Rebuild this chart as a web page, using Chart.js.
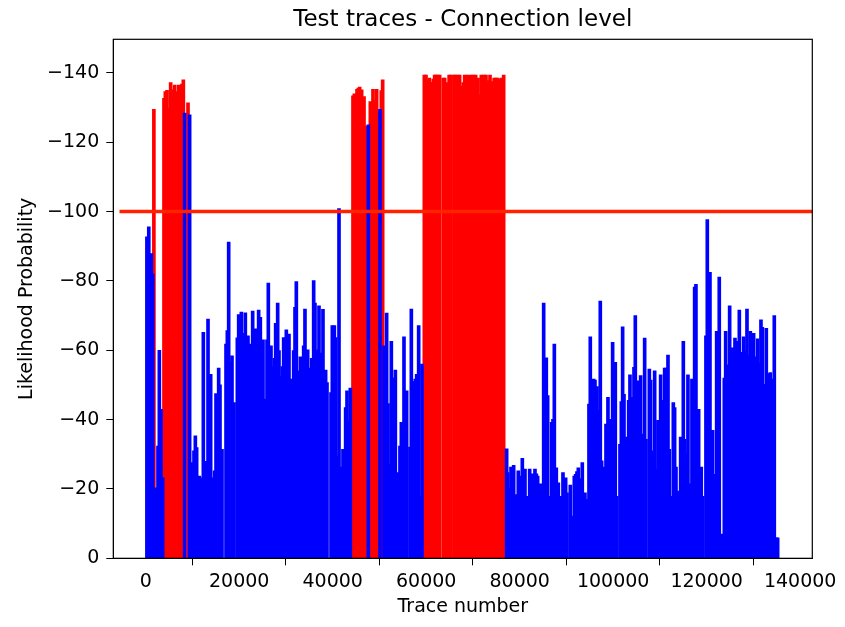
<!DOCTYPE html>
<html>
<head>
<meta charset="utf-8">
<script src="https://cdn.jsdelivr.net/npm/chart.js@4.4.0/dist/chart.umd.min.js"></script>
<style>
  html, body { margin: 0; padding: 0; background: #fff; }
</style>
</head>
<body>
<canvas id="chart" width="845" height="627"></canvas>
<script>
// traces flagged as normal (blue) and anomalous (red), likelihood values
const blueTrace = [260, 660, 960, 1200, 1500, 2050, 2630, 2920, 3270, 3630, 8330, 9400,
  9980, 10330, 10620, 10900, 11470, 11830, 12330, 12610, 12900, 13330, 13900, 14180, 14750,
  15040, 15320, 15610, 15890, 16320, 17180, 17460, 17750, 18030, 18460, 18890, 19600, 19890,
  20170, 20460, 21030, 21310, 21880, 22170, 22450, 22880, 23450, 23740, 24160, 24520, 24810,
  25090, 25450, 25950, 26230, 26520, 26800, 27090, 27510, 27800, 28230, 28510, 28800, 29230,
  29510, 30080, 30370, 30650, 30940, 31220, 31650, 31940, 32220, 32510, 33080, 33360, 33790,
  34070, 34360, 34650, 34930, 35500, 35930, 36210, 36500, 37070, 37350, 37920, 38210, 38490,
  38780, 39640, 39920, 40350, 40630, 41060, 41350, 41920, 42200, 42770, 43060, 43340, 43770,
  47620, 50120,
  50970, 51540, 51830, 52110, 52540, 52830, 53110, 53400, 53970, 54390, 54680, 54970, 55250,
  55540, 55820, 56530, 56820, 57100, 57390, 57670, 57960, 58390, 58820, 59100,
  77210, 77420, 77710, 78140, 78420, 78710, 79140, 79700, 79990, 80280, 80560, 80850, 81130,
  81420, 82130, 82420, 82700, 82990, 83270, 83560, 83840, 84410, 84700, 85130, 85410, 85690,
  85980, 86270, 86840, 87120, 87410, 87830, 88260, 88690, 89260, 89540, 89830, 90120, 90830,
  91110, 91680, 91970, 92250, 92540, 93110, 93390, 93960, 94250, 94820, 95100, 95530, 95820,
  96100, 96530, 96810, 97240, 97530, 98100, 98460, 98880, 99170, 99450, 99880, 100450, 100740,
  101450, 101740, 102020, 102310, 102880, 103310, 103590, 103880, 104160, 104450, 104730,
  105300, 105590, 105870, 106160, 106440, 106730, 107010, 107730, 108010, 108300, 108580,
  108870, 109150, 109580, 110150, 110440, 110720, 111010, 111290, 111720, 112000, 112430,
  112860, 113140, 113430, 114000, 114430, 115000, 115280, 115570, 115990, 116560, 116850,
  117420, 117700, 117990, 118280, 118840, 119130, 119840, 120130, 120410, 120700, 121270,
  121550, 122130, 122410, 122690, 123130, 123770, 124060, 124630, 124910, 125200, 125480,
  126050, 126340, 126980, 127260, 127620, 127900, 128330, 128620, 129050, 129330, 129760,
  130040, 130330, 130900, 131180, 131610, 131900, 132470, 132750, 133320, 133610, 133900,
  134460, 134820, 135180];
const blueValue = [-92.7, -95.6, -85, -87.9, -82, -20.3, -32.4, -60, -43, -23.2, -128.4, -127.9,
  -27.6, -31, -35.3, -31.9, -23.7, -23.2, -65.2, -25.6, -28, -69, -53.1, -23.2, -25.2,
  -47.5, -45.9, -54.9, -50, -31.4, -61.8, -65.7, -91.2, -56.5, -58.4, -44.9, -63.6, -70.3,
  -58.6, -71, -64.9, -70.8, -64.2, -61.3, -61.8, -71.3, -66.2, -58.1, -71.6, -69.5, -62.3,
  -63, -45.9, -63, -79.4, -54.1, -61.3, -55.3, -57.7, -67.8, -73.6, -59.9, -52.4, -55.3,
  -63.7, -65.9, -60.1, -64.7, -50, -51.7, -59.9, -72.4, -79.8, -54.1, -58.1, -54.6, -61.3,
  -71.9, -54.6, -60.1, -54.9, -57.7, -80.1, -73.6, -60.1, -72.8, -59.2, -71.8, -54.1, -54.3,
  -50.7, -47.8, -67.1, -67.1, -63.7, -29.5, -100.9, -26.3, -31.4, -43.5, -48.3, -39.4, -49.1,
  -125, -129.5,
  -61.3, -70.7, -44.6, -27.1, -62.6, -50.7, -52, -54.3, -24.7, -32.4, -39.2, -38.2, -63.9,
  -25.2, -48.3, -32.1, -71.9, -51, -37.7, -51.7, -53.1, -67.1, -17.9, -56,
  -31.6, -24.7, -20.3, -26.3, -18.9, -26.8, -18.4, -25.2, -22.8, -23.7, -28.8, -19.9, -25.7,
  -17.9, -25.7, -22.3, -24.4, -17.5, -25.7, -24.4, -23.7, -21.5, -15, -73.6, -39.6, -57.8,
  -46.9, -17.9, -39.2, -40.1, -61.8, -26.1, -21.8, -17.9, -24.7, -22.5, -23.2, -18.9, -21.1,
  -12.2, -23.7, -24.2, -25, -26.1, -23, -27.6, -18.9, -17, -44.5, -63.9, -51, -51.7,
  -51.4, -49.5, -42.7, -74.2, -28.1, -26.3, -38.7, -46.4, -40.1, -34.1, -62.3, -56.5, -17.9,
  -32.9, -45.2, -66.8, -47.3, -35, -45.6, -52.9, -22.1, -46.4, -55.1, -70,
  -51.2, -25.7, -52.7, -17, -35.8, -63.5, -34.3, -54.6, -51.4, -31, -20.8,
  -54.1, -25.7, -39.8, -52.9, -35, -45.6, -54.9, -54.9, -58.6, -31.4, -17.9,
  -44.9, -43.5, -26.3, -19.4, -35, -62.6, -34.3, -30.2, -52.9, -21.5, -51.7,
  -78.2, -79, -18.2, -43, -26.3, -17.9, -64.2, -97.7, -51.7, -82.5, -36.9,
  -24.2, -65.5, -23.2, -81.1, -7, -52, -65.5, -55.8, -72.8, -56.5, -60.7,
  -63.5, -62.6, -71.6, -53.3, -59.4, -63.9, -59.9, -71.9, -58.6, -65.5, -56.5,
  -64.9, -58.1, -63.3, -56.2, -68.8, -66.6, -50.2, -66.3, -53.3, -53.6, -51.7,
  -70, -5.9, -5.9];

const redTrace = [1750, 3910, 4200, 4560, 5060, 5340, 5630, 5910, 6200, 6480, 6770, 7050, 7340,
  7550, 7760, 8050, 9050,
  44340, 44630, 45200, 45480, 45770, 46200, 46700, 46980, 48050, 48340, 48620, 49120, 49400,
  49690, 50400, 50690,
  59600, 59960, 60380, 60670, 61240, 61520, 61810, 62090, 62480, 62880, 63660, 63950, 64230,
  64520, 64910, 65300, 65950, 66230, 66800, 67150, 67510, 67940, 68230, 68800, 69080, 69510,
  70080, 70580, 71080, 71440, 71790, 72360, 72790, 73070, 73650, 74150, 74540, 74930, 75290,
  75860, 76140, 76570];
const redValue = [-129.5, -132.7, -134.6, -135, -129.8, -137.2, -135.1, -133.2, -136.5, -133.7,
  -134.6, -136.5, -131.2, -136.3, -136.8, -138, -131.4,
  -133.4, -134, -135.3, -135.6, -135.9, -135.1, -133.2, -124.7, -131.7, -127.1, -135.3, -132.2,
  -135.3, -128.8, -134.9, -138,
  -139.4, -139.4, -137.8, -138.5, -137.3, -138.2, -139.4, -139.4, -139.4, -139.4, -138.5,
  -138.5, -135.3, -137.2, -139.4, -139.4, -139.4, -139.4, -139.4, -139.4, -136.1, -137.2,
  -139.4, -139.4, -137.8, -139.4, -139.4, -139.4, -138.5, -133.7, -139.4, -139.4, -139.4,
  -137.8, -139.4, -137.5, -138.5, -138.5, -138.5, -138.2, -138.5, -139.4];

const threshold = -100;
const thresholdSpan = [-5600, 143000];
const xTicks = [0, 20000, 40000, 60000, 80000, 100000, 120000, 140000];
const yTicks = [-140, -120, -100, -80, -60, -40, -20, 0];

const FONT = 'DejaVu Sans';

const toPoints = (xs, ys) => xs.map((x, i) => ({ x: x, y: ys[i] }));

// matplotlib-like frame and title centred over the axes
const framePlugin = {
    id: 'frame',
    afterDraw(chart) {
        const { ctx, chartArea: a } = chart;
        ctx.save();
        ctx.strokeStyle = '#000';
        ctx.lineWidth = 1.2;
        ctx.strokeRect(a.left, a.top, a.right - a.left, a.bottom - a.top);
        ctx.fillStyle = '#000';
        ctx.font = '23px "' + FONT + '"';
        ctx.textAlign = 'center';
        ctx.textBaseline = 'alphabetic';
        ctx.fillText('Test traces - Connection level', (a.left + a.right) / 2, 26);
        ctx.restore();
    }
};

const fmt = v => (v < 0 ? '\u2212' + Math.abs(v) : String(v));

new Chart(document.getElementById('chart'), {
    type: 'bar',
    data: {
        datasets: [
            {
                type: 'line',
                data: toPoints(thresholdSpan, [threshold, threshold]),
                borderColor: '#ff2200',
                borderWidth: 3.5,
                pointRadius: 0,
                order: 0
            },
            {
                data: toPoints(blueTrace, blueValue),
                backgroundColor: '#0000ff',
                barThickness: 3,
                grouped: false,
                order: 1
            },
            {
                data: toPoints(redTrace, redValue),
                backgroundColor: '#ff0000',
                barThickness: 3,
                grouped: false,
                order: 2
            }
        ]
    },
    options: {
        responsive: false,
        animation: false,
        events: [],
        layout: { padding: { top: 39.3, right: 32.7, left: 0, bottom: 0 } },
        plugins: { legend: { display: false }, tooltip: { enabled: false }, title: { display: false } },
        scales: {
            x: {
                type: 'linear',
                min: -6930,
                max: 142590,
                offset: false,
                afterBuildTicks: s => { s.ticks = xTicks.map(v => ({ value: v })); },
                afterFit: s => { s.height = 68.7; },
                grid: { drawOnChartArea: false, color: '#000', tickLength: 7 },
                border: { color: '#000' },
                ticks: { color: '#000', font: { family: FONT, size: 19 }, padding: 5, maxRotation: 0, callback: fmt },
                title: { display: true, text: 'Trace number', color: '#000', font: { family: FONT, size: 19 }, padding: { bottom: 8.6 } }
            },
            y: {
                reverse: true,
                min: -149.7,
                max: 0,
                afterBuildTicks: s => { s.ticks = yTicks.map(v => ({ value: v })); },
                afterFit: s => { s.width = 113.3; },
                grid: { drawOnChartArea: false, color: '#000', tickLength: 7 },
                border: { color: '#000' },
                ticks: { color: '#000', font: { family: FONT, size: 19 }, padding: 7, callback: fmt },
                title: { display: true, text: 'Likelihood Probability', color: '#000', font: { family: FONT, size: 19 }, padding: { top: 15.6 } }
            }
        }
    },
    plugins: [framePlugin]
});
</script>
</body>
</html>
